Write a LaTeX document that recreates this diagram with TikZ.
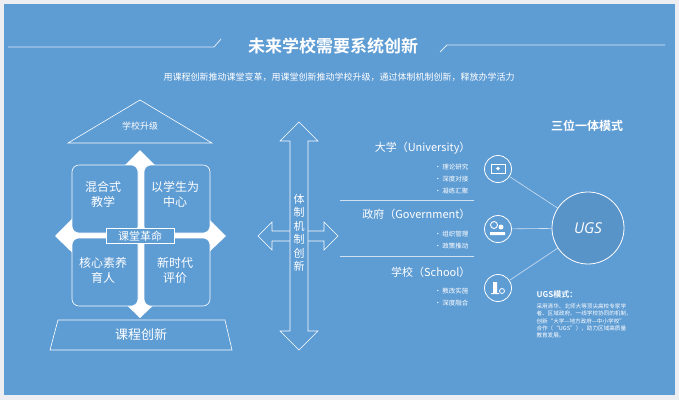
\documentclass[tikz,border=0pt]{standalone}
\usepackage{fontspec}
\setmainfont{Noto Sans CJK SC}
\newfontfamily\cjkb{Noto Sans CJK SC Bold}
\newfontfamily\latin{Open Sans}
\definecolor{bg}{HTML}{5E9CD4}
\definecolor{pg}{HTML}{ECEEF1}
\begin{document}
\begin{tikzpicture}[x=1pt,y=-1pt,
 wl/.style={draw=white,line width=0.6pt},
 qbox/.style={draw=white,line width=0.6pt,fill=bg,rounded corners=7pt},
 qt/.style={text=white,font=\fontsize{12}{15}\selectfont,align=center},
 hd/.style={text=white,font=\fontsize{11}{13}\selectfont,anchor=east},
 bl/.style={text=white,font=\fontsize{6.5}{8}\selectfont,anchor=east},
 ic/.style={circle,draw=white,line width=0.8pt,minimum size=27pt,inner sep=0pt}]
\fill[pg] (0,0) rectangle (679,400);
\useasboundingbox (0,0) rectangle (679,400);
\fill[bg] (4,4) rectangle (675,395);
% title
\node[text=white,font=\cjkb\fontsize{17}{20}\selectfont] (title) at (333,46) {未来学校需要系统创新};
\draw[white!80!bg,line width=0.8pt] (8,47) -- (214,47) -- (221,39);
\draw[white!80!bg,line width=0.8pt] (440,52) -- (447,45) -- (665,45);
\node[text=white,font=\fontsize{9}{11}\selectfont] (sub) at (339,77) {用课程创新推动课堂变革，用课堂创新推动学校升级，通过体制机制创新，释放办学活力};
% roof
\draw[wl] (68,143) -- (140,100) -- (212,143) -- cycle;
\node[text=white,font=\fontsize{9}{11}\selectfont] (roof) at (140,126) {学校升级};
% diamond
\fill[white] (140,150) -- (226,236) -- (140,318) -- (55,236) -- cycle;
\node[qbox,minimum width=66pt,minimum height=68pt] (q1) at (105,199) {};
\node[qbox,minimum width=66pt,minimum height=68pt] (q2) at (177,199) {};
\node[qbox,minimum width=66pt,minimum height=68pt] (q3) at (105,272) {};
\node[qbox,minimum width=66pt,minimum height=68pt] (q4) at (177,272) {};
\node[qt] at (103,194) {混合式\\教学};
\node[qt] at (175,194) {以学生为\\中心};
\node[qt] at (103,270) {核心素养\\育人};
\node[qt] at (175,270) {新时代\\评价};
\node[draw=white,line width=0.6pt,fill=bg,text=white,font=\fontsize{11}{13}\selectfont,minimum width=68pt,minimum height=15pt,inner sep=1pt] (core) at (140,236) {课堂革命};
% base
\draw[wl] (58,320) -- (225,320) -- (232,350) -- (50,350) -- cycle;
\node[text=white,font=\fontsize{13}{15}\selectfont] (base) at (141,335) {课程创新};
% double arrows
\draw[wl,fill=bg] (258,236) -- (272,222) -- (272,231) -- (324,231) -- (324,222) -- (338,236) -- (324,250) -- (324,241) -- (272,241) -- (272,250) -- cycle;
\draw[wl,fill=bg] (299,122) -- (318,141) -- (308,141) -- (308,331) -- (318,331) -- (299,350) -- (280,331) -- (290,331) -- (290,141) -- (280,141) -- cycle;
\node[text=white,font=\fontsize{11}{13.5}\selectfont,align=center] (sys) at (299,233) {体\\制\\机\\制\\创\\新};
% right
\node[text=white,font=\cjkb\fontsize{12}{14}\selectfont] (tri) at (587,126) {三位一体模式};
\node[hd] (u) at (474,148) {大学（University）};
\node[bl] at (472,167) {· 理论研究};
\node[bl] at (472,179) {· 深度对接};
\node[bl] at (472,191) {· 凝练汇聚};
\draw[white!70!bg,line width=0.6pt] (340,200) -- (474,200);
\node[hd] (g) at (474,214) {政府（Government）};
\node[bl] at (472,234) {· 组织管理};
\node[bl] at (472,246) {· 政策推动};
\draw[white!70!bg,line width=0.6pt] (340,256) -- (474,256);
\node[hd] (s) at (474,272) {学校（School）};
\node[bl] at (472,291) {· 教改实施};
\node[bl] at (472,303) {· 深度融合};
\node[ic] (i1) at (498,169) {};
\node[ic] (i2) at (498,229) {};
\node[ic] (i3) at (498,288) {};
\node[circle,draw=white,line width=0.8pt,fill=bg!95!black,minimum size=72pt,text=white,font=\latin\itshape\fontsize{15}{17}\selectfont] (ugs) at (588,228) {UGS};
\draw[white!70!bg,line width=0.6pt] (i1) -- (ugs);
\draw[white!70!bg,line width=0.6pt] (i2) -- (ugs);
\draw[white!70!bg,line width=0.6pt] (i3) -- (ugs);
% icons
\draw[white,line width=0.9pt] (491,164) rectangle (505,173);
\draw[white,fill=white] (498,168.5) circle (1.5);
\draw[white,line width=0.9pt] (494,225) circle (3.5);
\fill[white] (490,235) rectangle (505,232) (501,227) circle (2.5);
\fill[white] (493,282) rectangle (497,293) (491,293) rectangle (499,294);
\draw[white,line width=0.8pt] (502,291) circle (2.5);
\node[text=white,font=\cjkb\fontsize{8}{10}\selectfont,anchor=west] (m) at (533,294) {UGS模式：};
\node[text=white,font=\fontsize{5.6}{7.4}\selectfont,anchor=north west,align=left] (mt) at (533,300) {采用清华、北师大等顶尖高校专家学\\者、区域政府、一线学校协同的机制，\\创新“大学—地方政府—中小学校”\\合作（“UGS”），助力区域高质量\\教育发展。};
\end{tikzpicture}
\end{document}
